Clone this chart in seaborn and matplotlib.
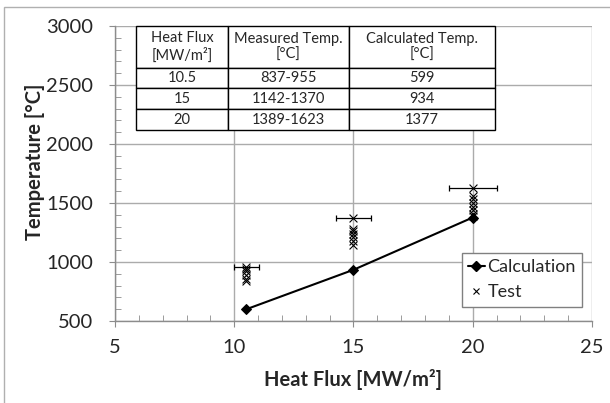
import matplotlib
matplotlib.use("Agg")

import pandas as pd
import matplotlib.pyplot as plt
import seaborn as sns
from matplotlib.lines import Line2D
from matplotlib.patches import Rectangle
from matplotlib.ticker import MultipleLocator

# calculated peak temperatures
heat_flux = [10.5, 15, 20]
calc_temp = [599, 934, 1377]

# measured test points
test_flux = [10.5] * 6 + [15] * 7 + [20] * 8
test_temp = [955, 940, 920, 890, 860, 837,
             1370, 1280, 1260, 1240, 1210, 1180, 1142,
             1623, 1560, 1530, 1500, 1470, 1440, 1410, 1389]

# max measured value per flux, with 5% error on heat flux
max_temp = [955, 1370, 1623]
flux_err = [0.525, 0.75, 1.0]

table_header = ["Heat Flux\n[MW/m²]", "Measured Temp.\n[°C]", "Calculated Temp.\n[°C]"]
table_rows = [["10.5", "837-955", "599"],
              ["15", "1142-1370", "934"],
              ["20", "1389-1623", "1377"]]

sns.set_style("white")
plt.rcParams["font.family"] = ["Lato", "DejaVu Sans"]

calc_df = pd.DataFrame({"flux": heat_flux, "temp": calc_temp})
test_df = pd.DataFrame({"flux": test_flux, "temp": test_temp})

fig = plt.figure(figsize=(6.1, 4.03), dpi=100)
ax = fig.add_axes([0.1885, 0.2035, 0.782, 0.732])

# outer chart border
fig.patches.append(Rectangle((4 / 610, -0.1), 1.2, 1.1 - 7 / 403,
                             transform=fig.transFigure, fill=False,
                             edgecolor="#b0b0b0", lw=1, zorder=0))

sns.lineplot(data=calc_df, x="flux", y="temp", ax=ax, color="black", lw=1.5,
             marker="D", markersize=5.5, markeredgecolor="black", zorder=4)
sns.scatterplot(data=test_df, x="flux", y="temp", ax=ax, marker="x", color="black",
                s=32, linewidth=0.8, zorder=3)
ax.errorbar(heat_flux, max_temp, xerr=flux_err, fmt="none", ecolor="black",
            elinewidth=0.9, capsize=2.5, capthick=0.9, zorder=3)

ax.set_xlim(5, 25)
ax.set_ylim(500, 3000)
ax.xaxis.set_major_locator(MultipleLocator(5))
ax.xaxis.set_minor_locator(MultipleLocator(1))
ax.yaxis.set_major_locator(MultipleLocator(500))
ax.yaxis.set_minor_locator(MultipleLocator(100))
ax.grid(True, which="major", color="#ababab", lw=1)
ax.set_axisbelow(True)
for side in ["top", "right"]:
    ax.spines[side].set_visible(False)
for side in ["left", "bottom"]:
    ax.spines[side].set_color("#8c8c8c")
    ax.spines[side].set_linewidth(1)
ax.tick_params(which="major", direction="out", length=4, color="#8c8c8c",
               labelsize=14.5, left=True, bottom=True)
ax.tick_params(axis="y", which="major", pad=12)
ax.tick_params(axis="x", which="major", pad=9)
ax.tick_params(which="minor", direction="in", length=4, color="#8c8c8c",
               left=True, bottom=True)

ax.set_xlabel("Heat Flux [MW/m²]", fontsize=14.5, fontweight="bold")
ax.set_ylabel("Temperature [°C]", fontsize=14.5, fontweight="bold")
ax.xaxis.set_label_coords(0.498, -0.163)
ax.yaxis.set_label_coords(-0.147, 0.539)

# data table inside the plot
tbl = ax.table(cellText=table_rows, colLabels=table_header, cellLoc="center",
               colWidths=[92, 121, 146], bbox=[0.044, 0.647, 0.753, 0.353])
tbl.auto_set_font_size(False)
tbl.set_fontsize(10.5)
for (r, c), cell in tbl.get_celld().items():
    cell.set_edgecolor("black")
    cell.set_linewidth(1)
    cell.set_facecolor("white")
    cell.set_height(2.0 if r == 0 else 1.0)
tbl.set_zorder(5)

handles = [Line2D([], [], color="black", lw=1.5, marker="D", markersize=5.5),
           Line2D([], [], color="black", lw=0, marker="x", markersize=5, markeredgewidth=0.8)]
leg = ax.legend(handles, ["Calculation", "Test"], loc="upper left",
                bbox_to_anchor=(0.7275, 0.2305), fontsize=13, frameon=True,
                fancybox=False, framealpha=1, edgecolor="#808080",
                handlelength=0.9, handletextpad=0.15, borderpad=0.35,
                labelspacing=0.5, borderaxespad=0)
leg.get_frame().set_linewidth(1)
leg.set_zorder(6)

fig.savefig("out.png", dpi=100)
